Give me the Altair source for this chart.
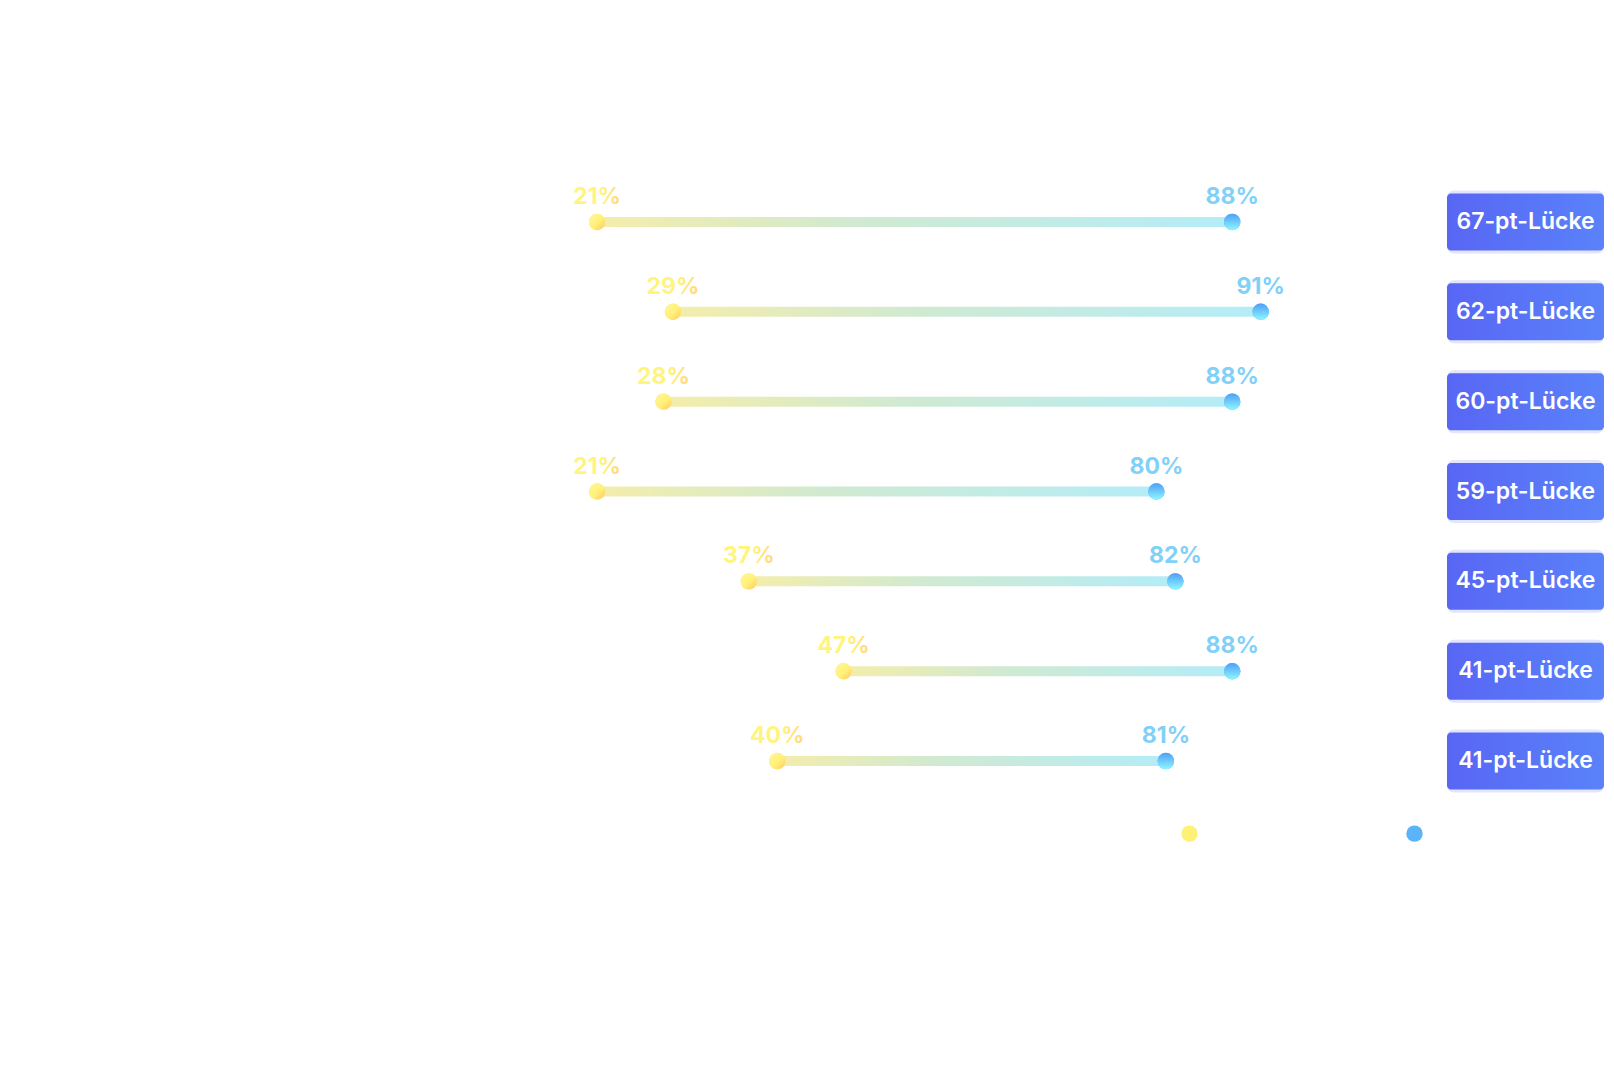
import altair as alt
import pandas as pd

# rows top to bottom (category names are not readable in the picture)
rows = [1, 2, 3, 4, 5, 6, 7]
start_vals = [21, 29, 28, 21, 37, 47, 40]
end_vals = [88, 91, 88, 80, 82, 88, 81]
series = ["start", "ende"]
series_colors = ["#fff176", "#5ab4fa"]

wide = pd.DataFrame({"row": rows, "start": start_vals, "ende": end_vals})
wide["gap_label"] = (wide["ende"] - wide["start"]).astype(str) + "-pt-Lücke"

long = wide.melt(id_vars="row", value_vars=series, var_name="serie", value_name="wert")
long["label"] = long["wert"].astype(str) + "%"

FONT = "Inter"
PLOT_H = 629
DOT = 270

y_enc = alt.Y("row:O", axis=None, sort=rows,
              scale=alt.Scale(paddingInner=0, paddingOuter=0))
x_scale = alt.Scale(domain=[0, 100], nice=False, zero=True)

line_grad = alt.Gradient(
    gradient="linear", x1=0, y1=0, x2=1, y2=0,
    stops=[alt.GradientStop(color="#f3ea9c", offset=0),
           alt.GradientStop(color="#c9e6c8", offset=0.4),
           alt.GradientStop(color="#a6e9f7", offset=1)],
)
yellow_grad = alt.Gradient(
    gradient="linear", x1=0, y1=0, x2=1, y2=1,
    stops=[alt.GradientStop(color="#fff59d", offset=0),
           alt.GradientStop(color="#fff176", offset=0.55),
           alt.GradientStop(color="#ffc46b", offset=1)],
)
blue_grad = alt.Gradient(
    gradient="linear", x1=0, y1=0, x2=0, y2=1,
    stops=[alt.GradientStop(color="#4f9ff8", offset=0),
           alt.GradientStop(color="#8ff7ff", offset=1)],
)
yellow_text_grad = alt.Gradient(
    gradient="linear", x1=0, y1=0, x2=1, y2=0,
    stops=[alt.GradientStop(color="#fff47e", offset=0),
           alt.GradientStop(color="#fff47e", offset=0.6),
           alt.GradientStop(color="#ffd582", offset=1)],
)
box_grad = alt.Gradient(
    gradient="linear", x1=0, y1=0, x2=1, y2=0,
    stops=[alt.GradientStop(color="#5866f4", offset=0),
           alt.GradientStop(color="#5a82fa", offset=1)],
)

base_wide = alt.Chart(wide)
base_long = alt.Chart(long)

connector = base_wide.mark_bar(size=10, cornerRadius=5, fill=line_grad, opacity=0.85).encode(
    x=alt.X("start:Q", scale=x_scale, axis=None),
    x2="ende:Q",
    y=y_enc,
)

# plain coloured dots underneath, they carry the legend
legend_dots = base_long.mark_circle(size=DOT, opacity=1).encode(
    x=alt.X("wert:Q", scale=x_scale, axis=None),
    y=y_enc,
    color=alt.Color(
        "serie:N",
        scale=alt.Scale(domain=series, range=series_colors),
        legend=alt.Legend(
            orient="none", legendX=783, legendY=648, direction="horizontal",
            title=None, labelExpr="''", symbolType="circle", symbolSize=DOT,
            symbolStrokeWidth=0, symbolOpacity=1, columnPadding=204,
        ),
    ),
)

start_dots = base_wide.mark_circle(size=DOT, fill=yellow_grad, opacity=1).encode(
    x=alt.X("start:Q", scale=x_scale, axis=None), y=y_enc
)
end_dots = base_wide.mark_circle(size=DOT, fill=blue_grad, opacity=1).encode(
    x=alt.X("ende:Q", scale=x_scale, axis=None), y=y_enc
)

start_text = base_long.transform_filter(alt.datum.serie == "start").mark_text(
    font=FONT, fontSize=23, fontWeight=700, dy=-25, fill=yellow_text_grad
).encode(x=alt.X("wert:Q", scale=x_scale, axis=None), y=y_enc, text="label:N")

end_text = base_long.transform_filter(alt.datum.serie == "ende").mark_text(
    font=FONT, fontSize=23, fontWeight=700, dy=-25, color="#80d0f8"
).encode(x=alt.X("wert:Q", scale=x_scale, axis=None), y=y_enc, text="label:N")

main = alt.layer(connector, legend_dots, start_dots, end_dots, start_text, end_text).properties(
    width=948, height=PLOT_H
)

glow = base_wide.mark_bar(height=63, cornerRadius=7, color="#8c97f8", opacity=0.25).encode(y=y_enc)
boxes = base_wide.mark_bar(height=57, cornerRadius=4, fill=box_grad).encode(y=y_enc)
box_text = base_wide.mark_text(font=FONT, fontSize=23, fontWeight=600, color="white").encode(
    y=y_enc, text="gap_label:N"
)
gaps = alt.layer(glow, boxes, box_text).properties(width=157, height=PLOT_H)

chart = (
    alt.hconcat(main, gaps, spacing=101)
    .properties(
        padding={"left": 390, "top": 169, "right": 0, "bottom": 10},
        background="white",
    )
    .configure_view(stroke=None, strokeWidth=0)
)

chart.save("out.html", embed_options={"renderer": "svg", "actions": False})
